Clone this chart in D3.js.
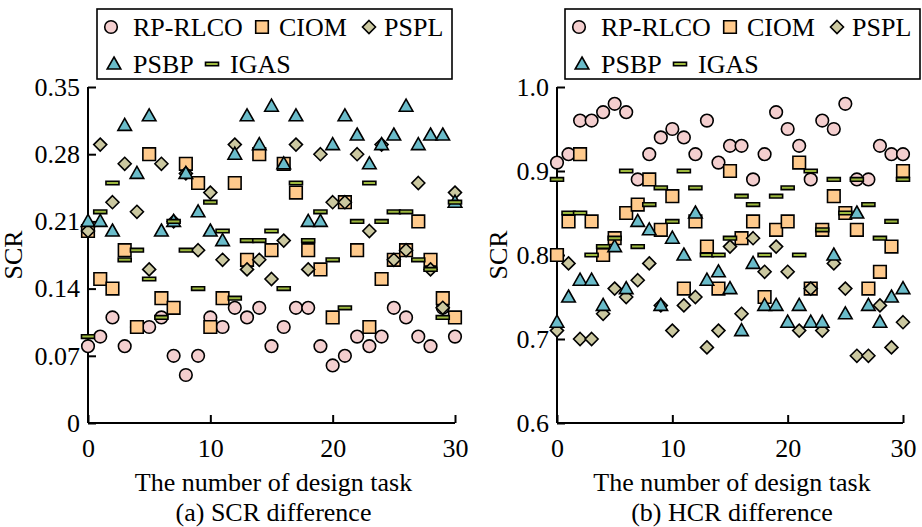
<!DOCTYPE html>
<html><head><meta charset="utf-8">
<script src="https://cdn.jsdelivr.net/npm/d3@7"></script>
<style>body{margin:0;background:#fff}svg{display:block}</style>
</head><body>
<svg id="chart" width="922" height="527"></svg>
<script>
const tasks = d3.range(0, 31);
// Panel (a) SCR difference
const rpA   = [0.08,0.09,0.11,0.08,0.10,0.10,0.11,0.07,0.05,0.07,0.11,0.10,0.12,0.11,0.12,0.08,0.10,0.12,0.12,0.08,0.06,0.07,0.09,0.08,0.09,0.12,0.11,0.09,0.08,0.12,0.09];
const ciomA = [0.20,0.15,0.14,0.18,0.10,0.28,0.13,0.12,0.27,0.25,0.10,0.13,0.25,0.17,0.28,0.18,0.27,0.24,0.18,0.16,0.11,0.23,0.18,0.10,0.15,0.17,0.18,0.21,0.17,0.13,0.11];
const psplA = [0.20,0.29,0.23,0.27,0.22,0.16,0.27,0.21,0.26,0.18,0.24,0.17,0.29,0.16,0.17,0.15,0.19,0.29,0.16,0.28,0.23,0.23,0.28,0.20,0.29,0.17,0.18,0.25,0.16,0.12,0.24];
const psbpA = [0.21,0.21,0.20,0.31,0.26,0.32,0.20,0.21,0.26,0.22,0.20,0.19,0.28,0.32,0.29,0.33,0.27,0.32,0.21,0.21,0.29,0.32,0.30,0.27,0.29,0.30,0.33,0.29,0.30,0.30,0.23];
const igasA = [0.09,0.22,0.25,0.17,0.18,0.15,0.11,0.21,0.18,0.14,0.23,0.20,0.13,0.19,0.19,0.20,0.14,0.25,0.19,0.22,0.17,0.12,0.21,0.25,0.21,0.22,0.22,0.17,0.16,0.11,0.23];
// Panel (b) HCR difference
const rpB   = [0.91,0.92,0.96,0.96,0.97,0.98,0.97,0.89,0.92,0.94,0.95,0.94,0.92,0.96,0.91,0.93,0.93,0.89,0.92,0.97,0.95,0.93,0.89,0.96,0.95,0.98,0.89,0.89,0.93,0.92,0.92];
const ciomB = [0.80,0.84,0.92,0.84,0.80,0.82,0.85,0.86,0.89,0.83,0.87,0.76,0.84,0.81,0.76,0.90,0.82,0.84,0.75,0.83,0.84,0.91,0.76,0.83,0.87,0.85,0.83,0.76,0.78,0.81,0.90];
const psplB = [0.71,0.79,0.70,0.70,0.73,0.76,0.75,0.77,0.79,0.74,0.71,0.74,0.75,0.69,0.71,0.81,0.73,0.82,0.78,0.81,0.78,0.71,0.76,0.71,0.79,0.76,0.68,0.68,0.74,0.69,0.72];
const psbpB = [0.72,0.75,0.77,0.77,0.74,0.81,0.76,0.84,0.83,0.74,0.82,0.80,0.85,0.77,0.78,0.76,0.71,0.79,0.74,0.74,0.72,0.74,0.72,0.72,0.80,0.73,0.85,0.74,0.72,0.75,0.76];
const igasB = [0.89,0.85,0.85,0.80,0.81,0.82,0.90,0.81,0.86,0.88,0.84,0.90,0.88,0.80,0.80,0.82,0.87,0.86,0.80,0.87,0.88,0.80,0.90,0.83,0.89,0.85,0.89,0.86,0.82,0.84,0.89];

const seriesNames = ["RP-RLCO","CIOM","PSPL","PSBP","IGAS"];
const shapes = ["circle","square","diamond","triangle","dash"];
const fills = ["#F4CFCF","#FFCA8C","#CBC8A0","#6ABCCA","#9DB83E"];
const xTicksA = [0,10,20,30];
const yTicksA = [0,0.07,0.14,0.21,0.28,0.35];
const yTicksB = [0.6,0.7,0.8,0.9,1.0];

const FONT = "'Liberation Serif','Times New Roman',serif";
const FS = 26;
const svg = d3.select("#chart");

function shapePath(shape, cx, cy) {
  const p = d3.path();
  if (shape === "circle") { p.moveTo(cx + 6.3, cy); p.arc(cx, cy, 6.3, 0, 2 * Math.PI); }
  else if (shape === "square") { p.rect(cx - 6.3, cy - 6.3, 12.6, 12.6); }
  else if (shape === "diamond") { p.moveTo(cx, cy - 6.5); p.lineTo(cx + 6.5, cy); p.lineTo(cx, cy + 6.5); p.lineTo(cx - 6.5, cy); p.closePath(); }
  else if (shape === "triangle") { p.moveTo(cx, cy - 7); p.lineTo(cx + 6.8, cy + 5); p.lineTo(cx - 6.8, cy + 5); p.closePath(); }
  else if (shape === "dash") { p.rect(cx - 6.5, cy - 1.8, 13, 3.6); }
  return p.toString();
}

function panel(cfg) {
  const x = d3.scaleLinear().domain([0, 30]).range([cfg.x0, cfg.x1]);
  const y = d3.scaleLinear().domain(cfg.yDomain).range([423, 87]);
  const g = svg.append("g");
  const ax = g.append("g").attr("transform", "translate(0,423)")
    .call(d3.axisBottom(x).tickValues(xTicksA).tickSize(-8).tickPadding(16).tickFormat(d3.format("d")));
  const ay = g.append("g").attr("transform", `translate(${cfg.x0},0)`)
    .call(d3.axisLeft(y).tickValues(cfg.yTicks).tickSize(-8).tickPadding(6).tickFormat(cfg.fmt));
  [ax, ay].forEach(a => {
    a.select(".domain").attr("stroke", "#000").attr("stroke-width", 2);
    a.selectAll(".tick line").attr("stroke", "#000").attr("stroke-width", 2);
    a.selectAll(".tick text").attr("font-family", FONT).attr("font-size", FS).attr("fill", "#000");
  });
  ax.select(".domain").attr("d", `M${cfg.x0},0H${cfg.x1}`);
  ay.select(".domain").attr("d", `M0,423V87`);
  ay.selectAll(".tick text").attr("dx", "-2");
  g.append("text").attr("x", (cfg.x0 + cfg.x1) / 2 + 2).attr("y", 491).attr("text-anchor", "middle")
    .attr("font-family", FONT).attr("font-size", FS).text("The number of design task");
  g.append("text").attr("x", (cfg.x0 + cfg.x1) / 2 + 2).attr("y", 521).attr("text-anchor", "middle")
    .attr("font-family", FONT).attr("font-size", FS).text(cfg.caption);
  g.append("text").attr("transform", `translate(${cfg.ylabX},255) rotate(-90)`).attr("text-anchor", "middle")
    .attr("font-family", FONT).attr("font-size", FS).text("SCR");
  cfg.data.forEach((vals, si) => {
    g.append("g").selectAll("path").data(vals).join("path")
      .attr("d", (d, i) => shapePath(shapes[si], x(tasks[i]), y(d)))
      .attr("fill", fills[si]).attr("stroke", "#000").attr("stroke-width", 1.6);
  });
  const lx = cfg.legX;
  const lg = g.append("g");
  lg.append("rect").attr("x", lx).attr("y", 9).attr("width", 355).attr("height", 70)
    .attr("fill", "#fff").attr("stroke", "#000").attr("stroke-width", 1.6);
  const items = [
    {s: 0, sx: 14, tx: 36, y: 27},
    {s: 1, sx: 165, tx: 182, y: 27},
    {s: 2, sx: 272, tx: 287, y: 27},
    {s: 3, sx: 17, tx: 36, y: 64},
    {s: 4, sx: 115, tx: 133, y: 64}
  ];
  items.forEach(it => {
    lg.append("path").attr("d", shapePath(shapes[it.s], lx + it.sx, it.y))
      .attr("fill", fills[it.s]).attr("stroke", "#000").attr("stroke-width", 1.6);
    lg.append("text").attr("x", lx + it.tx).attr("y", it.y + 9)
      .attr("font-family", FONT).attr("font-size", FS).text(seriesNames[it.s]);
  });
}

panel({x0: 88, x1: 455, yDomain: [0, 0.35], yTicks: yTicksA, fmt: d => d === 0 ? "0" : d3.format(".2f")(d),
  caption: "(a) SCR difference", ylabX: 22, legX: 97,
  data: [rpA, ciomA, psplA, psbpA, igasA]});
panel({x0: 557, x1: 903, yDomain: [0.6, 1.0], yTicks: yTicksB, fmt: d3.format(".1f"),
  caption: "(b) HCR difference", ylabX: 507, legX: 565,
  data: [rpB, ciomB, psplB, psbpB, igasB]});
</script>
</body></html>
